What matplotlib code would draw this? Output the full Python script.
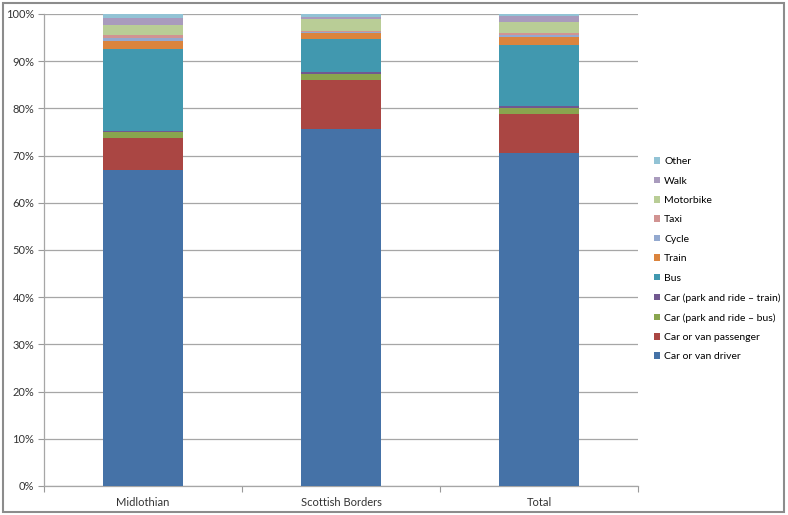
import numpy as np
import matplotlib.pyplot as plt
from matplotlib.patches import Rectangle

plt.rcParams['font.family'] = ['Lato', 'DejaVu Sans']

# categories and mode shares (percent)
areas = ['Midlothian', 'Scottish Borders', 'Total']
modes = ['Car or van driver', 'Car or van passenger', 'Car (park and ride \u2013 bus)',
         'Car (park and ride \u2013 train)', 'Bus', 'Train', 'Cycle', 'Taxi',
         'Motorbike', 'Walk', 'Other']

car_driver = [66.9, 75.6, 70.5]
car_passenger = [6.8, 10.4, 8.3]
pr_bus = [1.3, 1.2, 1.3]
pr_train = [0.3, 0.5, 0.35]
bus = [17.2, 7.1, 12.9]
train = [1.8, 1.2, 1.8]
cycle = [0.55, 0.2, 0.35]
taxi = [0.7, 0.15, 0.5]
motorbike = [2.1, 2.5, 2.3]
walk = [1.55, 0.6, 1.2]
other = [0.8, 0.55, 0.5]

series = [car_driver, car_passenger, pr_bus, pr_train, bus, train,
          cycle, taxi, motorbike, walk, other]
colors = ['#4572A7', '#AA4643', '#89A54E', '#71588F', '#4198AF', '#DB843D',
          '#93A9CF', '#D19392', '#B9CD96', '#A99BBD', '#92C3D5']

fig = plt.figure(figsize=(7.88, 5.15), dpi=100)
ax = fig.add_axes([44/788, 29/515, 594/788, 472/515])

x = np.arange(len(areas))
bottom = np.zeros(len(areas))
bars = []
for vals, col, lab in zip(series, colors, modes):
    b = ax.bar(x, vals, 0.4, bottom=bottom, color=col, label=lab, zorder=3)
    bars.append(b)
    bottom += np.array(vals)

ax.set_xlim(-0.5, 2.5)
ax.set_ylim(0, 100)
ax.set_yticks(np.arange(0, 101, 10))
ax.set_yticklabels(['%d%%' % v for v in range(0, 101, 10)], fontsize=8, color='#333333')
ax.set_xticks(x)
ax.set_xticklabels(areas, fontsize=8, color='#333333')
ax.tick_params(axis='x', length=0, pad=8)
ax.tick_params(axis='y', length=4, color='#999999', width=0.8, pad=3)
ax.set_xticks([-0.5, 0.5, 1.5, 2.5], minor=True)
ax.tick_params(axis='x', which='minor', length=4, color='#999999', width=0.8)

ax.grid(axis='y', color='#a6a6a6', linewidth=0.9, zorder=0)
for s in ['top', 'right']:
    ax.spines[s].set_visible(False)
for s in ['left', 'bottom']:
    ax.spines[s].set_color('#a6a6a6')
    ax.spines[s].set_linewidth(0.9)

# legend, reversed like in Excel
leg = fig.legend(bars[::-1], modes[::-1], loc='upper left',
                 bbox_to_anchor=(650/788, 1 - 153/515), frameon=False,
                 fontsize=7.5, handlelength=0.6, handleheight=0.6,
                 handletextpad=0.35, labelspacing=1.0, borderaxespad=0)

# chart area border
fig.patches.append(Rectangle((3/788, 3/515), 781/788, 509/515, transform=fig.transFigure,
                             fill=False, edgecolor='#8c8c8c', linewidth=1.5))

plt.savefig('out.png', dpi=100)
